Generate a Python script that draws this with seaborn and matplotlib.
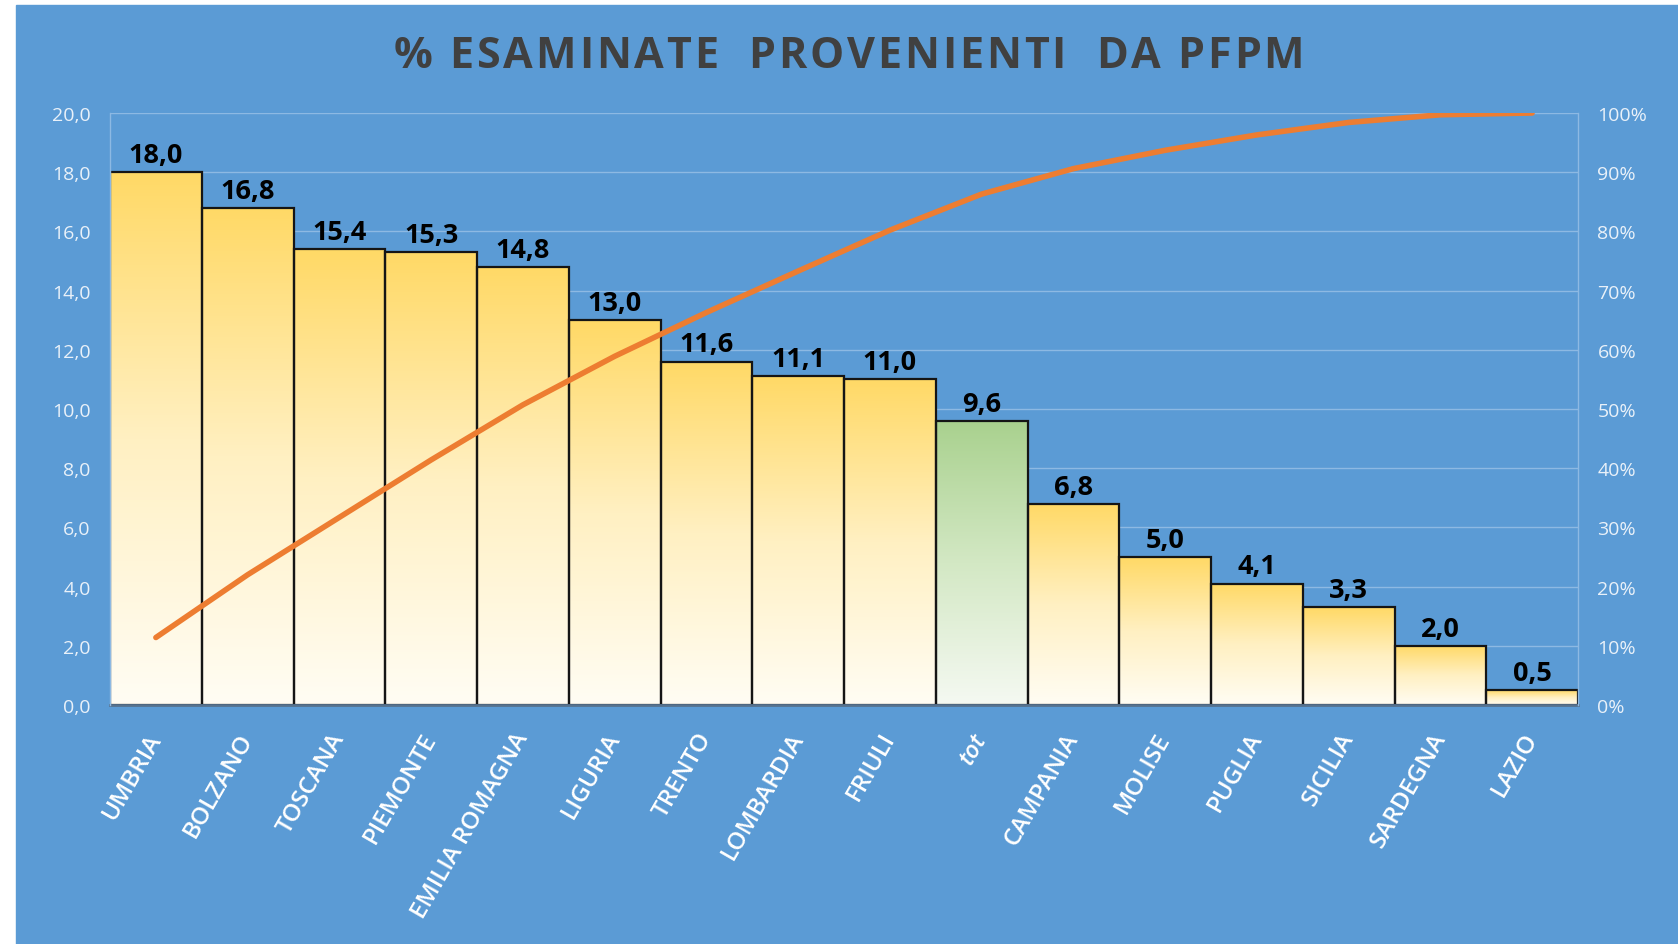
"""Pareto chart: % esaminate provenienti da PFPM, by region."""
import matplotlib
matplotlib.use("Agg")
import matplotlib.pyplot as plt
import matplotlib.patches as mpatches
from matplotlib.colors import LinearSegmentedColormap
from matplotlib.ticker import FixedLocator, FuncFormatter
import numpy as np
import seaborn as sns

sns.set_style("white")
plt.rcParams["font.family"] = ["Open Sans", "DejaVu Sans"]

regions = ["UMBRIA", "BOLZANO", "TOSCANA", "PIEMONTE", "EMILIA ROMAGNA", "LIGURIA",
           "TRENTO", "LOMBARDIA", "FRIULI", "tot", "CAMPANIA", "MOLISE", "PUGLIA",
           "SICILIA", "SARDEGNA", "LAZIO"]
pct_pfpm = [18.0, 16.8, 15.4, 15.3, 14.8, 13.0, 11.6, 11.1, 11.0, 9.6, 6.8, 5.0,
            4.1, 3.3, 2.0, 0.5]
# cumulative share
cum_share = [11.4, 22.0, 31.7, 41.4, 50.7, 58.9, 66.3, 73.3, 80.2, 86.3, 90.6,
             93.7, 96.3, 98.4, 99.7, 100.0]
left_ticks = [0, 2, 4, 6, 8, 10, 12, 14, 16, 18, 20]
right_ticks = [0, 10, 20, 30, 40, 50, 60, 70, 80, 90, 100]
TITLE = "% ESAMINATE  PROVENIENTI  DA PFPM"

BLUE = "#5B9BD5"
GRID = "#8DB9E3"
TICK_TXT = "#E9F1F9"


def tracked_title(fig, text, xc, y, track_px, **kw):
    # draw char by char so letters get extra spacing, then centre the whole run
    r = fig.canvas.get_renderer()
    arts, widths = [], []
    for ch in text:
        t = fig.text(0, y, ch, va="center", ha="left", **kw)
        arts.append(t)
        widths.append(t.get_window_extent(r).width if ch != " " else None)
    probe = fig.text(0, 0, "n n", **kw)
    bw = probe.get_window_extent(r).width
    probe.set_text("nn")
    sp = bw - probe.get_window_extent(r).width
    probe.remove()
    widths = [w if w is not None else sp for w in widths]
    total = sum(widths) + track_px * (len(text) - 1)
    x = xc * fig.bbox.width - total / 2
    for t, w in zip(arts, widths):
        t.set_x(x / fig.bbox.width)
        x += w + track_px


fig = plt.figure(figsize=(16.78, 9.45), dpi=100, facecolor="white")
fig.patches.append(mpatches.Rectangle((16 / 1678, 0), 1, 1 - 6 / 945,
                                      transform=fig.transFigure, color=BLUE, zorder=-10))
ax = fig.add_axes([110 / 1678, 1 - 706 / 945, 1468 / 1678, 592 / 945])
ax.set_facecolor("none")

sns.barplot(x=regions, y=pct_pfpm, width=1.0, ax=ax, color="white",
            edgecolor="#151515", linewidth=1.6, zorder=3)

yellow = LinearSegmentedColormap.from_list("y", ["#FFFDF4", "#FFF0C2", "#FFD966"])
green = LinearSegmentedColormap.from_list("g", ["#F5F9F2", "#D3E8C4", "#A9D18E"])
grad = np.linspace(0, 1, 256).reshape(-1, 1)
for name, patch in zip(regions, ax.patches):
    x0, w, h = patch.get_x(), patch.get_width(), patch.get_height()
    cmap = green if name == "tot" else yellow
    im = ax.imshow(grad, cmap=cmap, origin="lower", aspect="auto",
                   extent=[x0, x0 + w, 0, h], zorder=2)
    im.set_clip_path(patch)
    patch.set_facecolor("none")

labels = [f"{v:.1f}".replace(".", ",") for v in pct_pfpm]
ax.bar_label(ax.containers[0], labels=labels, padding=3, fontsize=19.5,
             fontweight="bold", color="black", zorder=5)

ax.set_xlim(-0.5, len(regions) - 0.5)
ax.set_ylim(0, 20)
ax.yaxis.set_major_locator(FixedLocator(left_ticks))
ax.yaxis.set_major_formatter(FuncFormatter(lambda v, _: f"{v:.1f}".replace(".", ",")))
ax.grid(axis="y", color=GRID, linewidth=1, zorder=0)
ax.set_axisbelow(True)
ax.tick_params(axis="y", length=0, pad=14, labelsize=14, labelcolor=TICK_TXT)
ax.tick_params(axis="x", length=0, pad=21, labelsize=17.5, labelcolor="white")
for lab in ax.get_xticklabels():
    lab.set_rotation(60)
    lab.set_ha("right")
    lab.set_va("center")
    lab.set_rotation_mode("anchor")
    lab.set_fontweight("semibold")
    if lab.get_text() == "tot":
        lab.set_fontstyle("italic")
for side in ["left", "right", "top"]:
    ax.spines[side].set_visible(False)
ax.spines["bottom"].set_color("#56728F")
ax.spines["bottom"].set_linewidth(2)
ax.spines["bottom"].set_zorder(6)

ax2 = ax.twinx()
sns.lineplot(x=regions, y=cum_share, sort=False, ax=ax2, color="#ED7D31",
             linewidth=4, solid_capstyle="round", solid_joinstyle="round", zorder=7)
ax2.set_ylim(0, 100)
ax2.set_xlim(-0.5, len(regions) - 0.5)
ax2.yaxis.set_major_locator(FixedLocator(right_ticks))
ax2.yaxis.set_major_formatter(FuncFormatter(lambda v, _: f"{v:.0f}%"))
ax2.tick_params(axis="y", length=0, pad=14, labelsize=14, labelcolor=TICK_TXT)
ax2.set_ylabel("")
for side in ["left", "right"]:
    ax2.spines[side].set_visible(True)
    ax2.spines[side].set_color(GRID)
    ax2.spines[side].set_linewidth(1)
ax2.spines["top"].set_visible(False)
ax2.spines["bottom"].set_visible(False)

tracked_title(fig, TITLE, 849 / 1678, 1 - 56 / 945, 2.8,
              fontsize=31, fontweight="bold", color="#404040")

fig.savefig("out.png", dpi=100, facecolor=fig.get_facecolor())
